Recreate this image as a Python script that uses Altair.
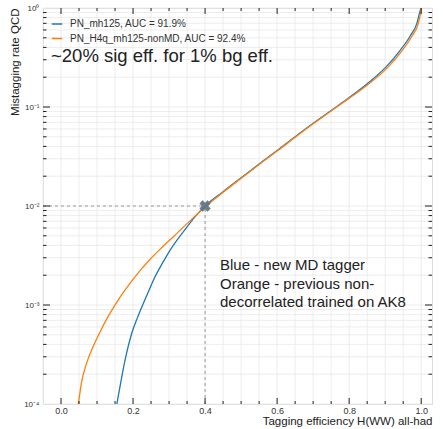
import altair as alt
import pandas as pd

# ROC curves: signal efficiency vs. QCD mistag rate (mistag given as log10)
blue_name = "PN_mh125, AUC = 91.9%"
orange_name = "PN_H4q_mh125-nonMD, AUC = 92.4%"

blue_eff = [0.155, 0.160, 0.169, 0.180, 0.196, 0.212, 0.229, 0.245, 0.261, 0.282,
            0.303, 0.326, 0.349, 0.372, 0.400, 0.450, 0.500, 0.550, 0.600, 0.650,
            0.700, 0.750, 0.800, 0.850, 0.900, 0.940, 0.970, 0.988, 0.997, 1.000]
blue_log10_mistag = [-4.0, -3.90, -3.72, -3.52, -3.29, -3.13, -2.98, -2.845, -2.715,
                     -2.575, -2.445, -2.325, -2.215, -2.11, -2.00, -1.855, -1.715,
                     -1.575, -1.44, -1.30, -1.165, -1.035, -0.905, -0.765, -0.605,
                     -0.435, -0.28, -0.155, -0.03, 0.0]

orange_eff = [0.048, 0.052, 0.057, 0.070, 0.093, 0.110, 0.127, 0.155, 0.192, 0.220,
              0.247, 0.280, 0.312, 0.358, 0.400, 0.452, 0.502, 0.552, 0.602, 0.652,
              0.702, 0.752, 0.803, 0.855, 0.906, 0.946, 0.975, 0.992, 0.999, 1.000]
orange_log10_mistag = [-4.0, -3.90, -3.78, -3.60, -3.39, -3.26, -3.14, -2.97, -2.78,
                       -2.65, -2.54, -2.42, -2.31, -2.15, -2.01, -1.855, -1.715,
                       -1.575, -1.44, -1.30, -1.165, -1.035, -0.905, -0.765, -0.605,
                       -0.435, -0.28, -0.155, -0.03, 0.0]

# working point
ref_eff = 0.4
ref_mistag = 0.01

x_major = [0.0, 0.2, 0.4, 0.6, 0.8, 1.0]
x_minor = [0.05, 0.1, 0.15, 0.25, 0.3, 0.35, 0.45, 0.5, 0.55, 0.65, 0.7, 0.75,
           0.85, 0.9, 0.95]
y_major = [1e-4, 1e-3, 1e-2, 1e-1, 1.0]
y_minor = [m * d for d in [1e-4, 1e-3, 1e-2, 1e-1] for m in range(2, 10)]

W, H = 389, 396
FONT = "Liberation Sans"
X_DOMAIN = [-0.05, 1.03]
Y_DOMAIN = [1e-4, 1.0]

xs = alt.Scale(domain=X_DOMAIN, nice=False, zero=False)
ys = alt.Scale(type="log", domain=Y_DOMAIN, nice=False)

curves = pd.concat([
    pd.DataFrame({"eff": blue_eff, "logm": blue_log10_mistag, "tagger": blue_name}),
    pd.DataFrame({"eff": orange_eff, "logm": orange_log10_mistag, "tagger": orange_name}),
])

ylabel = ("datum.value == 1 ? '10⁰' : datum.value == 0.1 ? '10⁻¹' : "
          "datum.value == 0.01 ? '10⁻²' : datum.value == 0.001 ? '10⁻³' : '10⁻⁴'")

# light grid
grid_x = alt.Chart(pd.DataFrame({"v": [-0.05] + x_major + x_minor})).mark_rule(
    color="#e8e8e8", strokeWidth=0.8).encode(x=alt.X("v:Q", scale=xs))
grid_y = alt.Chart(pd.DataFrame({"v": y_major + y_minor})).mark_rule(
    color="#e8e8e8", strokeWidth=0.8).encode(y=alt.Y("v:Q", scale=ys))

ref = pd.DataFrame({"x0": [X_DOMAIN[0]], "x1": [ref_eff], "y0": [Y_DOMAIN[0]],
                    "y1": [ref_mistag]})
hline = alt.Chart(ref).mark_rule(color="#999999", strokeDash=[3, 3], strokeWidth=1).encode(
    x=alt.X("x0:Q", scale=xs), x2="x1:Q", y=alt.Y("y1:Q", scale=ys))
vline = alt.Chart(ref).mark_rule(color="#999999", strokeDash=[3, 3], strokeWidth=1).encode(
    x=alt.X("x1:Q", scale=xs), y=alt.Y("y0:Q", scale=ys), y2="y1:Q")

lines = alt.Chart(curves).transform_calculate(
    mistag="pow(10, datum.logm)"
).mark_line(strokeWidth=1.3, clip=True, interpolate="monotone").encode(
    x=alt.X("eff:Q", scale=xs,
            axis=alt.Axis(values=x_major, format=".1f", tickSize=0, domain=False,
                          grid=False, labelFontSize=9, labelPadding=2,
                          labelColor="#333", labelFont=FONT,
                          title="Tagging efficiency H(WW) all-had", titleAnchor="end",
                          titleFontSize=11.5, titleFontWeight="normal", titleFont=FONT,
                          titleColor="#222", titlePadding=0)),
    y=alt.Y("mistag:Q", scale=ys,
            axis=alt.Axis(values=y_major, labelExpr=ylabel, tickSize=0, domain=False,
                          grid=False, labelFontSize=8, labelPadding=4,
                          labelColor="#333", labelFont=FONT,
                          title="Mistagging rate QCD", titleAnchor="end",
                          titleFontSize=11.5, titleFontWeight="normal", titleFont=FONT,
                          titleColor="#222", titlePadding=3)),
    color=alt.Color("tagger:N",
                    scale=alt.Scale(domain=[blue_name, orange_name],
                                    range=["#1f77b4", "#ff7f0e"]),
                    legend=alt.Legend(title=None, orient="none", legendX=8, legendY=10,
                                      symbolType="stroke", symbolSize=110,
                                      symbolStrokeWidth=1.5, labelFontSize=10,
                                      labelFont=FONT, labelColor="#333", labelLimit=400,
                                      rowPadding=3.5, labelOffset=7, padding=0)),
    order=alt.Order("eff:Q"),
)

marker = alt.Chart(ref).mark_point(shape="cross", filled=True, angle=45, size=130,
                                   color="#627586", opacity=0.95).encode(
    x=alt.X("x1:Q", scale=xs), y=alt.Y("y1:Q", scale=ys))


def xticks(vals, length):
    d = pd.DataFrame({"v": vals})
    bottom = alt.Chart(d).mark_rule(color="#222", strokeWidth=1).encode(
        x=alt.X("v:Q", scale=xs), y=alt.value(H), y2=alt.value(H - length))
    top = alt.Chart(d).mark_rule(color="#222", strokeWidth=1).encode(
        x=alt.X("v:Q", scale=xs), y=alt.value(0), y2=alt.value(length))
    return [bottom, top]


def yticks(vals, length):
    d = pd.DataFrame({"v": vals})
    left = alt.Chart(d).mark_rule(color="#222", strokeWidth=1).encode(
        y=alt.Y("v:Q", scale=ys), x=alt.value(0), x2=alt.value(length))
    right = alt.Chart(d).mark_rule(color="#222", strokeWidth=1).encode(
        y=alt.Y("v:Q", scale=ys), x=alt.value(W - length), x2=alt.value(W))
    return [left, right]


ticks = (xticks(x_major, 6) + xticks(x_minor, 3) +
         yticks(y_major[1:-1], 7) + yticks(y_minor, 3.5))

headline = alt.Chart(pd.DataFrame({"t": ["~20% sig eff. for 1% bg eff."]})).mark_text(
    align="left", baseline="alphabetic", fontSize=18.5, font=FONT, color="#222").encode(
    text="t:N", x=alt.value(8), y=alt.value(54))

note_lines = ["Blue - new MD tagger", "Orange - previous non-",
              "decorrelated trained on AK8"]
notes = [
    alt.Chart(pd.DataFrame({"t": [s]})).mark_text(
        align="left", baseline="middle", fontSize=15, font=FONT, color="#222").encode(
        text="t:N", x=alt.value(177), y=alt.value(257 + 18.5 * i))
    for i, s in enumerate(note_lines)
]

chart = alt.layer(
    grid_x, grid_y, hline, vline, lines, marker, *ticks, headline, *notes
).properties(
    width=W, height=H,
    padding={"left": 43, "top": 8, "right": 11, "bottom": 25},
    autosize=alt.AutoSizeParams(type="none"),
).configure_view(
    stroke="#222", strokeWidth=1.5
).configure(background="white")

chart.save("out.html", embed_options={"renderer": "svg", "actions": False})
